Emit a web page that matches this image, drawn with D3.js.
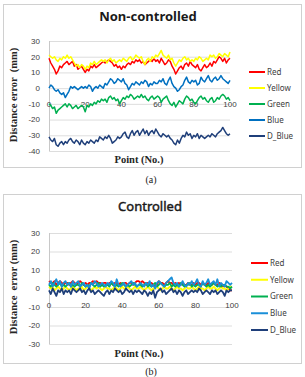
<!DOCTYPE html>
<html>
<head>
<meta charset="utf-8">
<script src="https://cdnjs.cloudflare.com/ajax/libs/d3/7.8.5/d3.min.js"></script>
<style>
  body { margin: 0; background: #fff; }
  svg { display: block; }
</style>
</head>
<body>
<div id="chart"></div>
<script>
const seriesNames = ["Red", "Yellow", "Green", "Blue", "D_Blue"];
const points = d3.range(0, 101);

// Non-controlled
const redA = [19,16,14,12,9,11,14,13,15,16, 17,15,16,17,14,15,12,13,14,12, 10,12,11,14,13,15,13,14,15,16,
  17,16,17,18,17,16,14,15,13,14, 12,14,13,15,16,15,17,16,18,17, 18,16,17,15,16,17,18,17,19,17,
  18,16,19,17,15,16,18,17,14,12, 9,11,13,14,12,15,16,14,17,15, 14,13,15,12,11,13,15,13,14,16,
  14,17,16,18,20,19,17,19,16,18, 19];
const yellowA = [21,20,19,20,18,17,19,18,20,19, 21,19,20,18,16,14,15,13,15,14, 12,14,13,16,15,17,15,16,17,18,
  17,18,16,18,19,17,18,16,17,18, 17,19,18,17,19,20,18,19,21,20, 19,20,17,15,18,19,17,20,19,21,
  20,22,24,21,20,19,21,18,19,16, 14,16,18,17,19,20,18,19,17,18, 17,19,18,20,19,17,18,19,18,21,
  20,21,19,20,22,21,20,22,21,20, 23];
const greenA = [-10,-11,-13,-12,-16,-14,-13,-12,-11,-10, -12,-10,-11,-13,-12,-11,-13,-12,-11,-12,
  -15,-11,-12,-10,-11,-9,-10,-8,-9,-7, -8,-7,-9,-6,-5,-7,-6,-8,-7,-10, -8,-6,-7,-5,-6,-4,-5,-7,-6,-5,
  -6,-4,-6,-5,-7,-8,-6,-5,-7,-6, -5,-6,-9,-7,-6,-5,-8,-10,-11,-9, -12,-10,-8,-9,-10,-7,-5,-6,-8,-7,
  -9,-10,-8,-6,-5,-7,-6,-8,-9,-7, -6,-9,-8,-6,-7,-5,-4,-5,-7,-6, -8];
const blueA = [0,2,1,-1,-2,-1,-3,-4,-3,-6, -4,-2,1,0,1,0,-1,0,1,0, 1,0,2,1,-2,0,1,0,2,1,
  0,3,2,4,6,5,3,4,6,5, 4,6,3,2,-1,1,3,2,4,3, 2,4,3,5,4,1,3,2,4,3, 3,5,4,6,3,2,5,7,3,1,
  0,-2,-1,1,2,5,7,4,3,5, 4,5,2,3,7,5,4,6,8,5, 4,6,7,5,6,8,6,5,4,3, 5];
const dBlueA = [-31,-33,-34,-32,-36,-37,-35,-34,-36,-34, -35,-33,-32,-34,-35,-33,-34,-36,-33,-35,
  -36,-34,-35,-33,-34,-35,-33,-34,-31,-32, -33,-31,-32,-30,-32,-35,-34,-33,-31,-32,
  -31,-29,-28,-31,-32,-29,-27,-30,-28,-27, -30,-28,-26,-29,-27,-30,-28,-27,-29,-26,
  -28,-30,-31,-29,-30,-31,-30,-32,-33,-35, -36,-33,-35,-32,-30,-31,-28,-30,-29,-32,
  -30,-31,-29,-32,-30,-31,-32,-31,-30,-31, -29,-30,-31,-29,-28,-27,-25,-27,-29,-30, -29];

// Controlled
const redB = [4,3,3,4,2,3,4,3,2,3, 3,2,3,4,3,2,3,4,3,2, 3,2,3,3,4,3,4,3,3,2, 3,3,2,3,3,2,3,3,2,3,
  2,3,3,2,3,3,2,3,4,4, 3,4,3,2,3,2,3,2,1,2, 4,3,3,2,3,4,3,3,2,3, 2,3,2,3,2,2,3,2,2,3,
  2,3,3,2,3,2,2,3,2,2, 3,2,2,3,2,1,2,1,0,-1, -1];
const yellowB = [1,0,1,-1,0,1,0,-1,0,1, 0,-1,0,1,0,-1,0,0,1,-1, 0,1,0,-1,0,1,0,1,0,-1, 0,1,0,0,-1,0,1,0,-1,0,
  1,0,0,1,0,-1,0,1,0,0, 1,0,-1,0,1,0,-1,0,0,1, 0,-1,0,1,0,0,1,0,-1,0, 1,0,0,-1,0,1,0,0,1,0,
  -1,0,1,0,0,-1,0,1,0,0, 1,0,-1,0,1,0,0,-1,0,1, 1];
const greenB = [2,1,3,2,1,2,3,1,2,1, 2,3,1,2,1,2,2,1,3,2, 1,2,1,3,2,1,2,3,1,2, 1,2,2,1,3,2,1,2,1,2,
  3,2,1,2,1,2,3,2,1,2, 2,1,2,3,1,2,1,2,3,1, 2,3,2,1,2,2,3,1,2,1, 2,1,3,2,1,2,2,3,1,2,
  1,2,2,1,3,2,1,2,1,2, 3,2,1,2,1,2,2,1,1,0, 1];
const blueB = [2,4,1,3,5,2,4,1,3,4, 2,3,1,4,2,3,4,1,2,3, 1,2,0,3,2,4,3,1,2,3, 2,1,3,2,4,3,1,5,2,1,
  2,3,1,2,3,4,2,3,1,2, 3,2,1,3,2,4,1,2,0,3, 4,3,2,1,3,4,5,6,3,2, 3,1,2,4,2,1,3,2,4,2,
  3,5,2,1,4,2,3,5,2,3, 4,2,5,1,3,2,1,4,3,2, 3];
const dBlueB = [-1,-3,0,-2,-4,-1,-2,0,-3,-1, -2,-1,-3,0,-1,-2,-1,0,-2,-1, -3,-1,0,-2,-1,-3,-2,-1,-2,-3,
  -4,-2,-1,-3,-1,-2,0,-1,-2,-1, -3,-2,0,-1,-2,-1,-3,-1,-2,-1, -2,-3,-1,-2,-4,-2,-3,-1,-5,-2,
  -1,0,-2,-1,-3,-2,-1,0,-2,-1, -3,-1,-2,-4,-2,-1,-3,-2,-1,-2, -1,-2,0,-1,-3,-2,-1,-2,-3,-1,
  -2,-1,-3,-2,-1,-2,-4,-1,-2,-1, -1];

const yTicksA = [30, 20, 10, 0, -10, -20, -30, -40];
const yTicksB = [30, 20, 10, 0, -10, -20, -30];
const xTicks = [0, 20, 40, 60, 80, 100];

const colorsA = ["#ff0000", "#ffff00", "#00b050", "#0070c0", "#1f3f7a"];
const colorsB = ["#ff0000", "#ffff00", "#00b050", "#1a8fd8", "#1f3f7a"];

const W = 305, H = 377;
const svg = d3.select("#chart").append("svg").attr("width", W).attr("height", H);

function drawChart(cfg) {
  const g = svg.append("g");

  g.append("rect")
    .attr("x", 3.5).attr("y", cfg.box[0] + 0.5)
    .attr("width", 298).attr("height", cfg.box[1] - cfg.box[0])
    .attr("fill", "#fff").attr("stroke", "#d0d0d0");

  const x = d3.scaleLinear().domain([0, 100]).range([49, cfg.right]);
  const y = d3.scaleLinear().domain(cfg.yDomain).range(cfg.yRange);

  // gridlines
  g.append("g")
    .attr("transform", `translate(49,0)`)
    .call(d3.axisLeft(y).tickValues(cfg.yTicks).tickSize(-(cfg.right - 49)).tickFormat(""))
    .call(a => a.select(".domain").remove())
    .call(a => a.selectAll("line").attr("stroke", "#d9d9d9").attr("stroke-width", 0.9));

  g.append("line")
    .attr("x1", 49.5).attr("x2", 49.5)
    .attr("y1", y(cfg.yDomain[1])).attr("y2", y(cfg.yDomain[0]))
    .attr("stroke", "#c8c8c8");

  g.selectAll("text.ytick")
    .data(cfg.yTicks)
    .enter().append("text")
    .attr("class", "ytick")
    .attr("x", 40).attr("y", d => y(d) + 2.8)
    .attr("text-anchor", "end")
    .attr("font-family", "Liberation Sans, Arial, sans-serif")
    .attr("font-size", "8px")
    .attr("fill", "#404040")
    .text(d => d);

  g.selectAll("text.xtick")
    .data(xTicks)
    .enter().append("text")
    .attr("class", "xtick")
    .attr("x", d => x(d)).attr("y", y(0) + cfg.xLabelOff)
    .attr("text-anchor", "middle")
    .attr("font-family", "Liberation Sans, Arial, sans-serif")
    .attr("font-size", "8px")
    .attr("fill", "#404040")
    .text(d => d);

  const line = d3.line().x((d, i) => x(points[i])).y(d => y(d));

  cfg.series.forEach((s, i) => {
    g.append("path")
      .datum(s)
      .attr("fill", "none")
      .attr("stroke", cfg.colors[i])
      .attr("stroke-width", cfg.lineW)
      .attr("stroke-linejoin", "round")
      .attr("d", line);
  });

  // titles
  g.append("text")
    .attr("x", cfg.titleX).attr("y", cfg.titleY)
    .attr("text-anchor", "middle")
    .attr("font-family", "Noto Sans, sans-serif")
    .attr("font-weight", cfg.titleWeight)
    .attr("font-size", "13px")
    .attr("fill", "#1a1a1a")
    .attr("stroke", "#1a1a1a")
    .attr("stroke-width", cfg.titleStroke)
    .text(cfg.title);

  g.append("text")
    .attr("transform", `translate(17,${cfg.yLabelY}) rotate(-90)`)
    .attr("text-anchor", "middle")
    .attr("font-family", "Liberation Serif, Times New Roman, serif")
    .attr("font-weight", "bold")
    .attr("font-size", "10.5px")
    .attr("fill", "#262626")
    .style("white-space", "pre")
    .text(cfg.yLabel);

  g.append("text")
    .attr("x", 139).attr("y", cfg.xLabelY)
    .attr("text-anchor", "middle")
    .attr("font-family", "Liberation Serif, Times New Roman, serif")
    .attr("font-weight", "bold")
    .attr("font-size", "10.5px")
    .attr("fill", "#262626")
    .text("Point (No.)");

  // legend
  const ly = d3.scalePoint().domain(seriesNames).range(cfg.legendY);
  const leg = g.selectAll("g.leg")
    .data(seriesNames)
    .enter().append("g")
    .attr("class", "leg")
    .attr("transform", d => `translate(0,${ly(d)})`);
  leg.append("line")
    .attr("x1", cfg.legendX[0]).attr("x2", cfg.legendX[1])
    .attr("stroke", (d, i) => cfg.colors[i])
    .attr("stroke-width", 2);
  leg.append("text")
    .attr("x", cfg.legendX[1] + 2).attr("y", 2.9)
    .attr("font-family", "Noto Sans, sans-serif")
    .attr("font-size", "8px")
    .attr("fill", "#404040")
    .text(d => d);

  svg.append("text")
    .attr("x", 151).attr("y", cfg.captionY)
    .attr("text-anchor", "middle")
    .attr("font-family", "Liberation Serif, Times New Roman, serif")
    .attr("font-size", "10px")
    .attr("fill", "#222")
    .text(cfg.caption);
}

drawChart({
  box: [4, 167],
  right: 230,
  yDomain: [-40, 30], yRange: [151, 41],
  yTicks: yTicksA,
  xLabelOff: 18.5,
  lineW: 1.5,
  series: [redA, yellowA, greenA, blueA, dBlueA],
  colors: colorsA,
  title: "Non-controlled", titleX: 148, titleY: 20.5, titleWeight: "bold", titleStroke: 0,
  yLabel: "Distance error  (mm)", yLabelY: 95,
  xLabelY: 163,
  legendY: [72, 136], legendX: [249, 265],
  caption: "(a)", captionY: 183
});

drawChart({
  box: [194, 363],
  right: 232,
  yDomain: [-30, 30], yRange: [344, 233],
  yTicks: yTicksB,
  xLabelOff: 19,
  lineW: 1.8,
  series: [redB, yellowB, greenB, blueB, dBlueB],
  colors: colorsB,
  title: "Controlled", titleX: 150, titleY: 210.5, titleWeight: "normal", titleStroke: 0.45,
  yLabel: "Distance  error (mm)", yLabelY: 287,
  xLabelY: 357,
  legendY: [263, 330], legendX: [251, 268],
  caption: "(b)", captionY: 375
});
</script>
</body>
</html>
